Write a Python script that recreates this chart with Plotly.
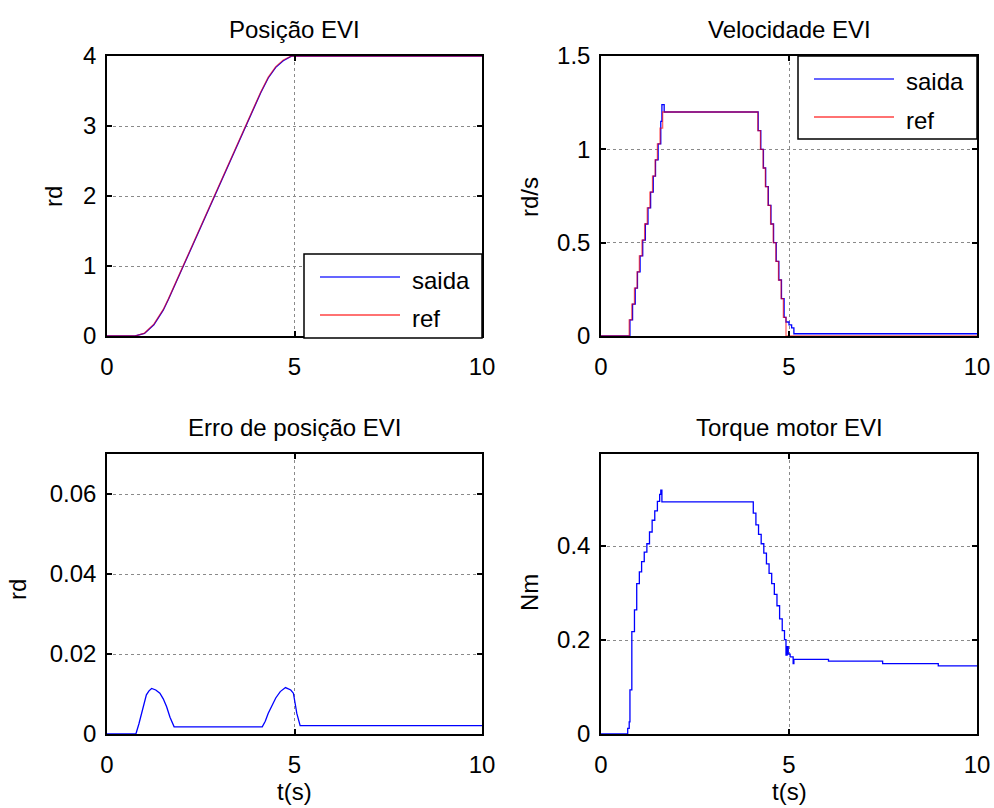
import plotly.graph_objects as go

# ---------------- data ----------------
t_pos = [0, 0.75, 1.0, 1.25, 1.5, 1.64, 2.0, 2.5, 3.0, 3.5, 4.1, 4.3, 4.5, 4.7, 4.85, 4.92, 10]
pos_ref = [0, 0, 0.042, 0.169, 0.379, 0.534, 0.966, 1.566, 2.166, 2.766, 3.486, 3.697, 3.849, 3.943, 3.99, 4.0, 4.0]
pos_out = [0, 0, 0.037, 0.160, 0.369, 0.524, 0.956, 1.556, 2.156, 2.756, 3.476, 3.686, 3.838, 3.932, 3.985, 3.998, 3.998]

# velocity samples (held between samples, as in the sampled reference)
t_vel_ref = [0, 0.75, 0.82, 0.89, 0.96, 1.02, 1.09, 1.16, 1.23, 1.30, 1.37, 1.44, 1.50, 1.57, 1.64,
             4.17, 4.24, 4.31, 4.37, 4.44, 4.51, 4.58, 4.65, 4.72, 4.79, 4.85, 4.92, 10]
vel_ref = [0, 0.086, 0.171, 0.257, 0.343, 0.429, 0.514, 0.600, 0.686, 0.771, 0.857, 0.943, 1.029, 1.114, 1.2,
           1.1, 1.0, 0.9, 0.8, 0.7, 0.6, 0.5, 0.4, 0.3, 0.2, 0.1, 0.0, 0.0]
t_vel_out = [0, 0.77, 0.84, 0.91, 0.97, 1.04, 1.11, 1.18, 1.25, 1.32, 1.39, 1.45, 1.52, 1.59, 1.62, 1.68,
             4.18, 4.25, 4.32, 4.38, 4.45, 4.52, 4.59, 4.66, 4.73, 4.80, 4.87, 4.92, 5.00, 5.07, 5.13, 10]
vel_out = [0, 0.086, 0.171, 0.257, 0.343, 0.429, 0.514, 0.600, 0.686, 0.771, 0.857, 0.943, 1.029, 1.15, 1.24, 1.2,
           1.1, 1.0, 0.9, 0.8, 0.7, 0.6, 0.5, 0.4, 0.3, 0.2, 0.1, 0.075, 0.06, 0.044, 0.012, 0.012]

t_err = [0, 0.77, 0.85, 0.92, 0.98, 1.05, 1.12, 1.19, 1.30, 1.41, 1.50, 1.59, 1.68, 1.79, 4.14,
         4.22, 4.30, 4.40, 4.50, 4.62, 4.76, 4.90, 4.97, 5.02, 5.06, 5.15, 10]
err = [0, 0, 0.0025, 0.0052, 0.0078, 0.0098, 0.0108, 0.0114, 0.0110, 0.0102, 0.0088, 0.0068, 0.0042,
       0.0018, 0.0018, 0.0032, 0.0052, 0.0070, 0.0090, 0.0106, 0.0116, 0.0110, 0.0102, 0.0075, 0.0052,
       0.0021, 0.0021]

# torque samples (held between samples)
t_tq = [0, 0.71, 0.75, 0.77, 0.82, 0.89, 0.95, 1.02, 1.08, 1.15, 1.22, 1.29, 1.36, 1.43, 1.50, 1.56,
        1.59, 1.62, 4.05, 4.12, 4.19, 4.26, 4.33, 4.40, 4.47, 4.54, 4.61, 4.68, 4.75, 4.82, 4.88,
        4.92, 4.95, 4.98, 5.03, 5.11, 5.13, 5.14, 6.05, 7.49, 8.97, 10]
tq = [0, 0.012, 0.026, 0.094, 0.218, 0.264, 0.320, 0.345, 0.367, 0.387, 0.405, 0.430, 0.455, 0.475,
      0.495, 0.510, 0.519, 0.494, 0.470, 0.445, 0.425, 0.405, 0.385, 0.362, 0.342, 0.320, 0.297,
      0.273, 0.245, 0.220, 0.201, 0.168, 0.186, 0.170, 0.164, 0.150, 0.159, 0.159, 0.155, 0.150,
      0.145, 0.145]

titles = ["Posição EVI", "Velocidade EVI", "Erro de posição EVI", "Torque motor EVI"]
ylabels = ["rd", "rd/s", "rd", "Nm"]
xlabel = "t(s)"
legend_names = ["saida", "ref"]
x_ticks = [0, 5, 10]
y_ticks = [[0, 1, 2, 3, 4], [0, 0.5, 1, 1.5], [0, 0.02, 0.04, 0.06], [0, 0.2, 0.4]]
y_ticktext = [["0", "1", "2", "3", "4"], ["0", "0.5", "1", "1.5"],
              ["0", "0.02", "0.04", "0.06"], ["0", "0.2", "0.4"]]
y_ranges = [[0, 4], [0, 1.5], [0, 0.07], [0, 0.596]]

# ---------------- layout geometry (pixels) ----------------
W, H = 994, 808
FONT = "Liberation Sans, Arial, sans-serif"
BLUE = "rgb(0,0,255)"
RED = "rgb(255,0,0)"

def px(x):
    return x / W

def py(y):
    return 1 - y / H

# plot boxes: (left, right, top, bottom) in px
boxes = [(107, 482, 56, 336), (601, 977, 56, 336), (107, 482, 454, 734), (601, 977, 454, 734)]
ylabel_x = [53, 529, 17, 529]
ylabel_y = [197, 197, 590, 593]

fig = go.Figure()

series = [
    [(t_pos, pos_out, BLUE, 1.0, legend_names[0], "linear"),
     (t_pos, pos_ref, RED, 0.6, legend_names[1], "linear")],
    [(t_vel_out, vel_out, BLUE, 1.0, legend_names[0], "hv"),
     (t_vel_ref, vel_ref, RED, 0.6, legend_names[1], "hv")],
    [(t_err, err, BLUE, 1.0, "erro", "linear")],
    [(t_tq, tq, BLUE, 1.0, "torque", "hv")],
]

for i, group in enumerate(series):
    xa = "x" if i == 0 else f"x{i+1}"
    ya = "y" if i == 0 else f"y{i+1}"
    for (xs, ys, col, op, name, shp) in group:
        fig.add_trace(go.Scatter(x=xs, y=ys, mode="lines", name=name, xaxis=xa, yaxis=ya,
                                 line=dict(color=col, width=1.3, shape=shp), opacity=op,
                                 showlegend=False))

axis_common = dict(showline=True, linecolor="black", linewidth=1.5, mirror="ticks",
                   ticks="inside", ticklen=5, tickcolor="black", tickwidth=1.5,
                   showgrid=True, gridcolor="#8a8a8a", griddash="dot", gridwidth=1,
                   zeroline=False, automargin=False,
                   tickfont=dict(family=FONT, size=24, color="black"))

layout = dict(width=W, height=H, autosize=False, margin=dict(l=0, r=0, t=0, b=0, autoexpand=False),
              paper_bgcolor="white", plot_bgcolor="white", font=dict(family=FONT, color="black"))

for i, (l, r, t, b) in enumerate(boxes):
    sfx = "" if i == 0 else str(i + 1)
    layout["xaxis" + sfx] = dict(axis_common, domain=[px(l), px(r)], range=[0, 10], tickvals=x_ticks,
                                 anchor="y" + sfx, ticklabelstandoff=8)
    layout["yaxis" + sfx] = dict(axis_common, domain=[py(b), py(t)], range=y_ranges[i],
                                 tickvals=y_ticks[i], ticktext=y_ticktext[i], anchor="x" + sfx,
                                 ticklabelstandoff=4)

fig.update_layout(**layout)

annotations = []
shapes = []
for i, (l, r, t, b) in enumerate(boxes):
    cx = (l + r) / 2
    annotations.append(dict(text=titles[i], x=px(cx), y=py(t - 27), xref="paper", yref="paper",
                            showarrow=False, xanchor="center", yanchor="middle",
                            font=dict(family=FONT, size=24, color="black")))
    annotations.append(dict(text=ylabels[i], x=px(ylabel_x[i]), y=py(ylabel_y[i]), xref="paper",
                            yref="paper", showarrow=False, xanchor="center", yanchor="middle",
                            textangle=-90, font=dict(family=FONT, size=24, color="black")))
    if i >= 2:
        annotations.append(dict(text=xlabel, x=px(cx), y=py(b + 57), xref="paper", yref="paper",
                                showarrow=False, xanchor="center", yanchor="middle",
                                font=dict(family=FONT, size=24, color="black")))

# legends drawn as boxes (top-left and top-right panels)
legend_boxes = [(304, 482, 254, 338), (798, 977, 56, 139)]
for (l, r, t, b) in legend_boxes:
    shapes.append(dict(type="rect", xref="paper", yref="paper", x0=px(l), x1=px(r), y0=py(b), y1=py(t),
                       line=dict(color="black", width=1.5), fillcolor="white", layer="above"))
    for k, (name, col, op) in enumerate([(legend_names[0], BLUE, 0.6), (legend_names[1], RED, 0.55)]):
        yy = t + 23 + k * 38
        shapes.append(dict(type="line", xref="paper", yref="paper", x0=px(l + 16), x1=px(l + 96),
                           y0=py(yy), y1=py(yy), line=dict(color=col, width=2), opacity=op, layer="above"))
        annotations.append(dict(text=name, x=px(l + 106), y=py(yy + 3), xref="paper", yref="paper",
                                showarrow=False, xanchor="left", yanchor="middle",
                                font=dict(family=FONT, size=24, color="black")))

fig.update_layout(annotations=annotations, shapes=shapes)
fig.write_html("out.html")
